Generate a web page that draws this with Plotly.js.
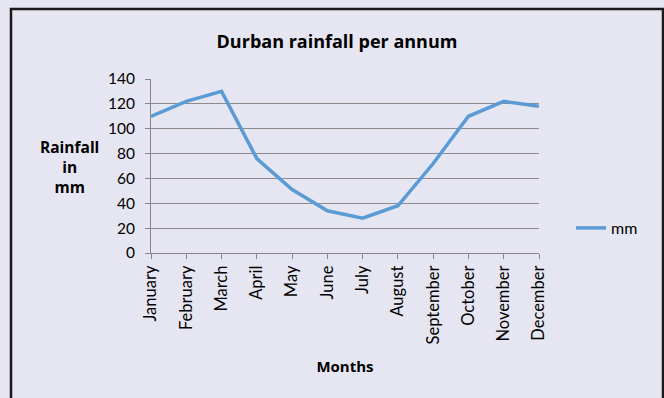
<!DOCTYPE html>
<html>
<head>
<meta charset="utf-8">
<script src="https://cdn.plot.ly/plotly-3.0.1.min.js"></script>
<style>
  html, body { margin: 0; padding: 0; background: #e6e6f2; }
  #chart { width: 664px; height: 398px; }
</style>
</head>
<body>
<div id="chart"></div>
<script>
const months = ["January","February","March","April","May","June","July","August","September","October","November","December"];
const rainfall = [110, 122, 130, 76, 51, 34, 28, 38, 72, 110, 122, 118];
const seriesName = "mm";
const yTicks = [0, 20, 40, 60, 80, 100, 120, 140];

const L = 151, R = 539, T = 79, B = 253, W = 664, H = 398;
const pw = R - L, ph = B - T;
const px = x => (x - L) / pw;
const py = y => (B - y) / ph;

const trace = {
  type: "scatter",
  mode: "lines",
  x: months,
  y: rainfall,
  name: seriesName,
  line: { color: "#5b9bd5", width: 3.5 },
  showlegend: true
};

const boldFont = "'Open Sans', sans-serif";

const layout = {
  width: W, height: H,
  margin: { l: L, r: W - R, t: T, b: H - B, pad: 0 },
  paper_bgcolor: "#e6e6f2",
  plot_bgcolor: "#e6e6f2",
  font: { family: "Lato, 'Open Sans', sans-serif", size: 15, color: "#000" },
  title: {
    text: "<b>Durban rainfall per annum</b>",
    font: { family: boldFont, size: 18, color: "#000" },
    x: px(337), xref: "paper", xanchor: "center",
    y: 1 - 42 / H, yanchor: "middle"
  },
  xaxis: {
    type: "category",
    range: [0, months.length - 1],
    tickangle: -90,
    ticks: "outside", ticklen: 5, tickcolor: "#868686",
    showline: true, linecolor: "#868686", linewidth: 1,
    showgrid: false, zeroline: false,
    tickfont: { size: 16.5 },
    title: { text: "<b>Months</b>", font: { family: boldFont, size: 15 }, standoff: 18 },
    fixedrange: true
  },
  yaxis: {
    range: [0, 140],
    tickvals: yTicks,
    ticks: "outside", ticklen: 5, tickcolor: "#868686",
    ticklabelstandoff: 7,
    showline: true, linecolor: "#868686", linewidth: 1,
    showgrid: true, gridcolor: "#8c8c8c", gridwidth: 1,
    zeroline: false,
    tickfont: { size: 15.5 },
    fixedrange: true
  },
  legend: {
    x: px(571), xanchor: "left",
    y: py(228), yanchor: "middle",
    bgcolor: "rgba(0,0,0,0)",
    font: { size: 16 },
    itemwidth: 30
  },
  annotations: [{
    text: "<b>Rainfall<br>in<br>mm</b>",
    xref: "paper", yref: "paper",
    x: px(69), y: py(167),
    xanchor: "center", yanchor: "middle",
    showarrow: false, align: "center",
    font: { family: boldFont, size: 15.5, color: "#000" }
  }],
  shapes: [{
    type: "rect", xref: "paper", yref: "paper",
    x0: px(11), x1: px(663), y0: py(405), y1: py(9),
    line: { color: "#1a1a1a", width: 2.5 },
    fillcolor: "rgba(0,0,0,0)",
    layer: "below"
  }]
};

Plotly.newPlot("chart", [trace], layout, { displayModeBar: false, staticPlot: true });
</script>
</body>
</html>
